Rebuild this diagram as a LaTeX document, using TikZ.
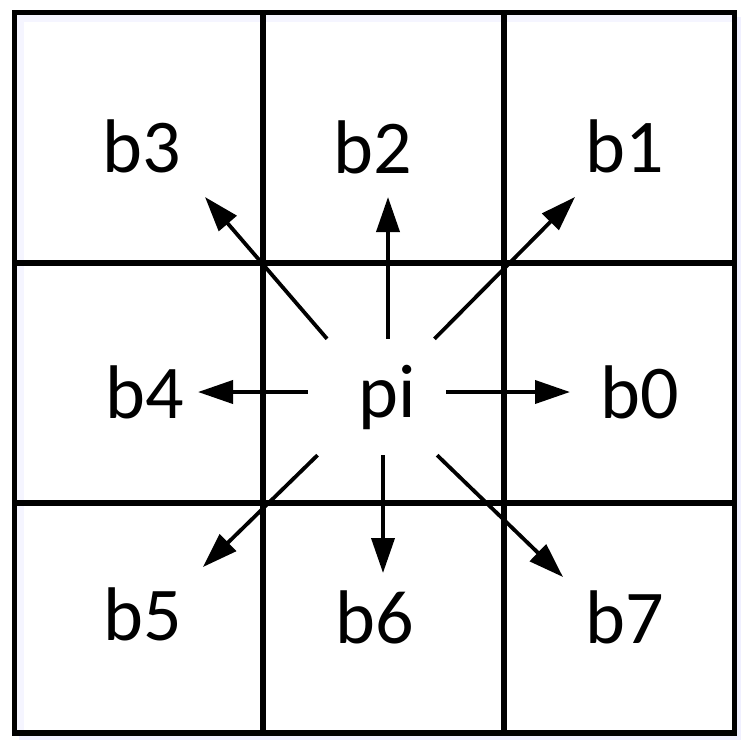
\documentclass[tikz,border=0pt]{standalone}
\usepackage{fontspec}
\setmainfont{Carlito}
\usetikzlibrary{arrows.meta}

\begin{document}
\begin{tikzpicture}[x=1pt,y=-1pt]
    \tikzstyle{grid}=[line width=5.8pt,line cap=rect]
    \tikzstyle{label}=[anchor=base,inner sep=0pt,font=\fontsize{76}{80}\selectfont]
    \tikzstyle{center}=[minimum width=138pt,minimum height=116pt,inner sep=0pt,font=\fontsize{76}{80}\selectfont]
    \tikzstyle{dir}=[line width=3.8pt,-{Triangle[length=35pt,width=23pt]}]
    \useasboundingbox (0,0) rectangle (751,748);
    % faint shadow
    \fill [blue!6] (19,17) rectangle (741,740);
    \fill [white] (14.5,12.5) rectangle (734.5,733);
    \fill [blue!4] (17,15) rectangle (24,731);
    \fill [blue!4] (17,15) rectangle (732,22);
    % grid
    \draw [grid] (14.5,12.5) rectangle (734.5,733);
    \draw [grid] (263,12.5) -- (263,733);
    \draw [grid] (504,12.5) -- (504,733);
    \draw [grid] (14.5,263) -- (734.5,263);
    \draw [grid] (14.5,503) -- (734.5,503);
    % labels
    \node (b3) at (142,172) [label] {b3};
    \node (b2) at (373,173) [label] {b2};
    \node (b1) at (625,172) [label] {b1};
    \node (b4) at (145,418) [label] {b4};
    \node (b0) at (640,418) [label] {b0};
    \node (b5) at (143,640) [label] {b5};
    \node (b6) at (375,643) [label] {b6};
    \node (b7) at (625,643) [label] {b7};
    \node (pi) at (377,397) [center] {\hspace*{20pt}pi};
    % arrow tips
    \coordinate (t0) at (570,392);
    \coordinate (t1) at (575,197);
    \coordinate (t2) at (388,197);
    \coordinate (t3) at (205,197);
    \coordinate (t4) at (198,392);
    \coordinate (t5) at (203,567);
    \coordinate (t6) at (383,573);
    \coordinate (t7) at (563,577);
    \draw [dir] (pi.east |- t0) -- (t0);
    \draw [dir] (pi) -- (t1);
    \draw [dir] (pi.north -| t2) -- (t2);
    \draw [dir] (pi) -- (t3);
    \draw [dir] (pi.west |- t4) -- (t4);
    \draw [dir] (pi) -- (t5);
    \draw [dir] (pi.south -| t6) -- (t6);
    \draw [dir] (pi) -- (t7);
\end{tikzpicture}
\end{document}
